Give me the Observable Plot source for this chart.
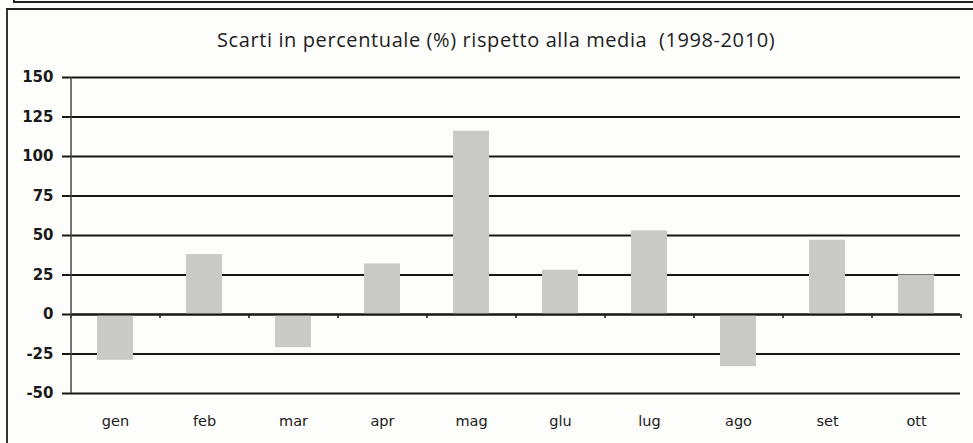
<!DOCTYPE html>
<html>
<head>
<meta charset="utf-8">
<script src="https://cdn.jsdelivr.net/npm/d3@7"></script>
<script src="https://cdn.jsdelivr.net/npm/@observablehq/plot@0.6"></script>
<style>
  html, body { margin: 0; padding: 0; background: #fdfdfb; overflow: hidden; }
  body { width: 973px; height: 443px; position: relative; }
  #topbox { position: absolute; left: 13px; top: 0px; width: 958px; height: 1px;
            border-left: 2px solid #222; border-bottom: 2px solid #222; }
  #frame { position: absolute; left: 6px; top: 8px; width: 965px; height: 433px;
           border-left: 2px solid #333; border-top: 2px solid #222; }
  #title { position: absolute; left: 217px; top: 26px; white-space: nowrap;
           font-family: "Open Sans", sans-serif; font-size: 20px; letter-spacing: 0.6px; color: #1e1e1e; }
  #chart { position: absolute; left: 0; top: 55px; }
</style>
</head>
<body>
<div id="topbox"></div>
<div id="frame"></div>
<div id="title">Scarti in percentuale (%) rispetto alla media&nbsp; (1998-2010)</div>
<div id="chart"></div>
<script>
const months = ["gen", "feb", "mar", "apr", "mag", "giu", "lug", "ago", "set", "ott"];
const values = [-29, 38, -21, 32, 116, 28, 53, -33, 47, 25];
const yTicks = [-50, -25, 0, 25, 50, 75, 100, 125, 150];
const monthLabels = ["gen", "feb", "mar", "apr", "mag", "glu", "lug", "ago", "set", "ott"];

const data = months.map((m, i) => ({month: m, value: values[i]}));

const W = 973, H = 388, ML = 70, MR = 13, MT = 22, MB = 50;
const pInner = 0.6, pOuter = 0.3;
const step = (W - ML - MR) / (months.length - pInner + 2 * pOuter);

const chart = Plot.plot({
  width: W,
  height: H,
  marginLeft: ML,
  marginRight: MR,
  marginTop: MT,
  marginBottom: MB,
  style: {background: "transparent", color: "#1a1a1a"},
  x: {domain: months, paddingInner: pInner, paddingOuter: pOuter, label: null},
  y: {domain: [-50, 150], label: null},
  marks: [
    Plot.ruleY(yTicks, {stroke: "#161616", strokeWidth: 2}),
    Plot.barY(data, {x: "month", y: "value", fill: "#c9c9c5"}),
    Plot.ruleY([0], {stroke: "#161616", strokeWidth: 2}),
    Plot.ruleX(months, {x: d => d, y1: 0, y2: -2.5, dx: -step / 2, stroke: "#161616", strokeWidth: 1.5}),
    Plot.ruleX(months.slice(-1), {x: d => d, y1: 0, y2: -2.5, dx: step / 2, stroke: "#161616", strokeWidth: 1.5}),
    Plot.ruleX([months[0]], {x: d => d, y1: -50, y2: 150, dx: -step / 2, stroke: "#444", strokeWidth: 1.5}),
    Plot.axisY({ticks: yTicks, tickSize: 8, tickPadding: 9, tickFormat: d => String(d),
      stroke: "#161616", strokeWidth: 2,
      fontFamily: "DejaVu Sans", fontWeight: "bold", fontSize: 15, fill: "#1a1a1a"}),
    Plot.axisX({tickSize: 0, tickPadding: 22, tickFormat: d => monthLabels[months.indexOf(d)],
      fontFamily: "DejaVu Sans", fontSize: 14.5, fill: "#1a1a1a"})
  ]
});
document.getElementById("chart").appendChild(chart);
</script>
</body>
</html>
